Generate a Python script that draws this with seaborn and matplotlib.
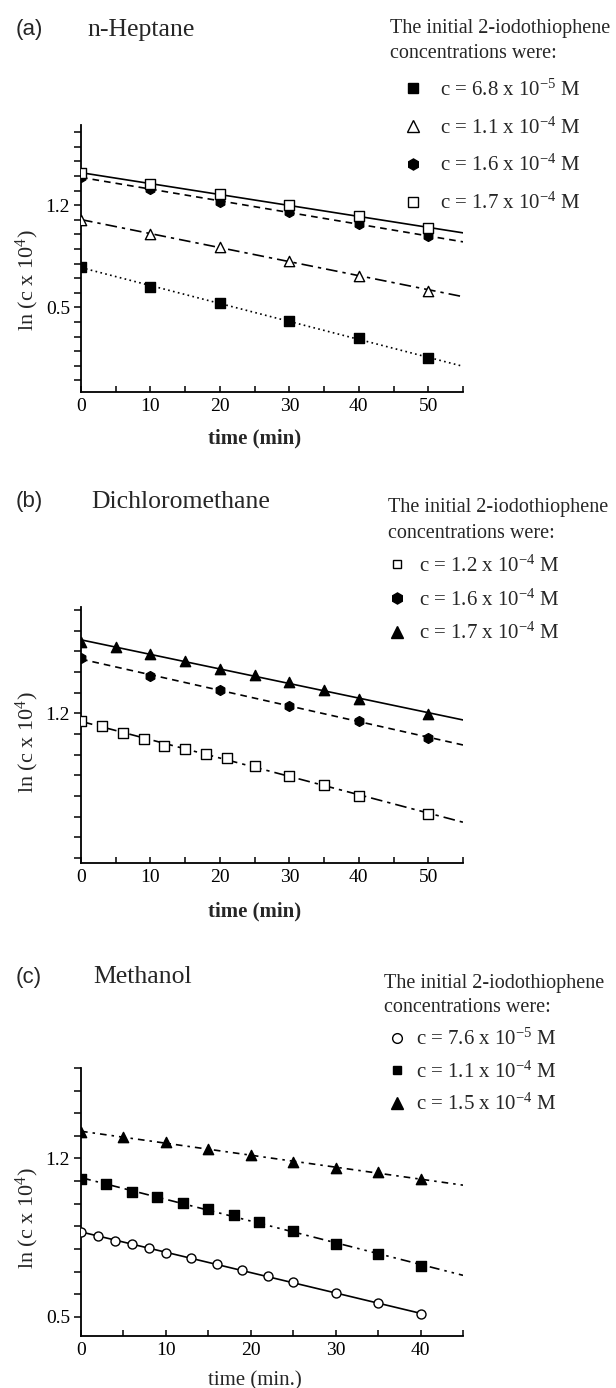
import numpy as np
import pandas as pd
import matplotlib
matplotlib.use("Agg")
import matplotlib.pyplot as plt
import seaborn as sns
from matplotlib.lines import Line2D
from matplotlib.ticker import MultipleLocator, FixedLocator

sns.set_style("ticks")
plt.rcParams['font.family'] = ['Liberation Serif', 'DejaVu Serif']
plt.rcParams['mathtext.fontset'] = 'custom'
plt.rcParams['mathtext.rm'] = 'Liberation Serif'
plt.rcParams['mathtext.it'] = 'Liberation Serif:italic'
plt.rcParams['mathtext.bf'] = 'Liberation Serif:bold'

# ---------------- data ----------------
# (a) n-Heptane
hept_t = [0, 10, 20, 30, 40, 50]
hept_68e5 = [0.775, 0.642, 0.528, 0.408, 0.287, 0.151]
hept_11e4 = [1.097, 1.005, 0.913, 0.821, 0.718, 0.615]
hept_16e4 = [1.395, 1.308, 1.223, 1.154, 1.074, 0.987]
hept_17e4 = [1.418, 1.349, 1.280, 1.200, 1.124, 1.044]
hept_labels = [r"c = 6.8 x 10$^{-5}$ M", r"c = 1.1 x 10$^{-4}$ M",
               r"c = 1.6 x 10$^{-4}$ M", r"c = 1.7 x 10$^{-4}$ M"]

# (b) Dichloromethane
dcm_t12 = [0, 3, 6, 9, 12, 15, 18, 21, 25, 30, 35, 40, 50]
dcm_12e4 = [1.163, 1.139, 1.103, 1.076, 1.044, 1.028, 1.004, 0.983,
            0.946, 0.894, 0.854, 0.801, 0.714]
dcm_t16 = [0, 10, 20, 30, 40, 50]
dcm_16e4 = [1.466, 1.380, 1.313, 1.237, 1.163, 1.082]
dcm_t17 = [0, 5, 10, 15, 20, 25, 30, 35, 40, 50]
dcm_17e4 = [1.546, 1.522, 1.485, 1.453, 1.417, 1.384, 1.353, 1.313, 1.269, 1.195]
dcm_labels = [r"c = 1.2 x 10$^{-4}$ M", r"c = 1.6 x 10$^{-4}$ M",
              r"c = 1.7 x 10$^{-4}$ M"]

# (c) Methanol
meoh_t76 = [0, 2, 4, 6, 8, 10, 13, 16, 19, 22, 25, 30, 35, 40]
meoh_76e5 = [0.876, 0.857, 0.836, 0.820, 0.802, 0.784, 0.761, 0.733,
             0.706, 0.680, 0.652, 0.606, 0.559, 0.512]
meoh_t11 = [0, 3, 6, 9, 12, 15, 18, 21, 25, 30, 35, 40]
meoh_11e4 = [1.107, 1.085, 1.053, 1.031, 1.004, 0.975, 0.949, 0.920,
             0.879, 0.824, 0.777, 0.725]
meoh_t15 = [0, 5, 10, 15, 20, 25, 30, 35, 40]
meoh_15e4 = [1.315, 1.296, 1.274, 1.240, 1.215, 1.185, 1.160, 1.138, 1.107]
meoh_labels = [r"c = 7.6 x 10$^{-5}$ M", r"c = 1.1 x 10$^{-4}$ M",
               r"c = 1.5 x 10$^{-4}$ M"]

legend_title = "The initial 2-iodothiophene\nconcentrations were:"

# ---------------- figure ----------------
W, H = 616, 1388
fig = plt.figure(figsize=(W / 100, H / 100), dpi=100)


def axes_px(left, top, right, bottom):
    return fig.add_axes([left / W, 1 - bottom / H, (right - left) / W, (bottom - top) / H])


ax_a = axes_px(81, 125, 463, 392)
ax_b = axes_px(81, 607, 463, 863)
ax_c = axes_px(81, 1068, 463, 1336)

DOT = (0, (1, 2))
DASHDOT = (0, (7, 3, 2, 3))
SHORTDASH = (0, (4, 3))
DASHDOTDOT = (0, (6, 3, 1.5, 3, 1.5, 3))


def series(ax, t, y, marker, filled, ls, truncate=False, s=42):
    sns.regplot(x=np.array(t, float), y=np.array(y, float), ax=ax, ci=None,
                truncate=truncate, marker=marker, color='black',
                scatter_kws=dict(s=s, facecolors='black' if filled else 'white',
                                 edgecolors='black', linewidths=1.0, alpha=1, zorder=3),
                line_kws=dict(linestyle=ls, linewidth=1.2, zorder=2))


def style_axes(ax, xmax, ylim):
    ax.set_xlim(0, xmax)
    ax.set_ylim(*ylim)
    for sp in ['top', 'right']:
        ax.spines[sp].set_visible(False)
    for sp in ['left', 'bottom']:
        ax.spines[sp].set_linewidth(1.3)
        ax.spines[sp].set_color('black')


def finish_axes(ax, xmax, ylim, ymajor, yminor, xlabel, xbold, xlab_y, ylab_y):
    ax.set_xlim(0, xmax)
    ax.set_ylim(*ylim)
    ax.xaxis.set_major_locator(MultipleLocator(10))
    ax.xaxis.set_minor_locator(MultipleLocator(5))
    ax.yaxis.set_major_locator(FixedLocator(ymajor))
    ax.yaxis.set_minor_locator(FixedLocator(yminor))
    ax.tick_params(axis='x', which='both', direction='in', length=4, width=1.1,
                   labelsize=14, pad=4, colors='black')
    ax.tick_params(axis='y', which='both', direction='out', length=5, width=1.1,
                   labelsize=14, pad=3, colors='black')
    ax.set_xlabel(xlabel, fontsize=15, fontweight='bold' if xbold else 'normal')
    ax.xaxis.set_label_coords(0.455, xlab_y)
    ax.set_ylabel(r"ln (c x 10$^{4}$)", fontsize=16)
    ax.yaxis.set_label_coords(-0.105, ylab_y)
    ax.set_facecolor('white')


def add_legend(ax, handles, labels, x_px, y_px, hl, htp, ls, tls):
    leg = ax.legend(handles, labels, title=legend_title, loc='upper left',
                    bbox_to_anchor=(x_px / W, 1 - y_px / H),
                    bbox_transform=fig.transFigure, frameon=False,
                    alignment='left', borderpad=0, borderaxespad=0,
                    handlelength=hl, handletextpad=htp, labelspacing=ls,
                    fontsize=15, title_fontsize=14.5)
    leg.get_title().set_linespacing(tls)
    return leg


def h(marker, filled, ms=7):
    return Line2D([], [], marker=marker, linestyle='none', markersize=ms,
                  markerfacecolor='black' if filled else 'white',
                  markeredgecolor='black', markeredgewidth=1.0)


# ---- (a) n-Heptane ----
style_axes(ax_a, 55, (-0.08, 1.75))
series(ax_a, hept_t, hept_68e5, 's', True, DOT)
series(ax_a, hept_t, hept_11e4, '^', False, DASHDOT, s=55)
series(ax_a, hept_t, hept_16e4, 'h', True, SHORTDASH, s=50)
series(ax_a, hept_t, hept_17e4, 's', False, '-')
finish_axes(ax_a, 55, (-0.08, 1.75), [0.5, 1.2],
            [v / 10 for v in range(0, 18)], "time (min)", True, -0.135, 0.42)
add_legend(ax_a, [h('s', True), h('^', False, 8), h('h', True, 8), h('s', False)],
           hept_labels, 390, 19, 2.2, 0.2, 0.8, 1.4)
fig.text(16 / W, 1 - 30 / H, "(a)", fontsize=16, family='Liberation Sans', va='center')
fig.text(87 / W, 1 - 30 / H, "n-Heptane", fontsize=18.5, va='center')

# ---- (b) Dichloromethane ----
style_axes(ax_b, 55, (0.475, 1.715))
series(ax_b, dcm_t12, dcm_12e4, 's', False, DASHDOT)
series(ax_b, dcm_t16, dcm_16e4, 'h', True, SHORTDASH, s=50)
series(ax_b, dcm_t17, dcm_17e4, '^', True, '-', s=55)
finish_axes(ax_b, 55, (0.475, 1.715), [1.2],
            [v / 10 for v in range(5, 18)], "time (min)", True, -0.15, 0.47)
add_legend(ax_b, [h('s', False, 6), h('h', True, 8), h('^', True, 8)],
           dcm_labels, 388, 498, 0.9, 0.6, 0.6, 1.5)
fig.text(16 / W, 1 - 502 / H, "(b)", fontsize=16, family='Liberation Sans', va='center')
fig.text(91 / W, 1 - 502 / H, "Dichloromethane", fontsize=18.5, va='center')

# ---- (c) Methanol ----
style_axes(ax_c, 45, (0.415, 1.6))
series(ax_c, meoh_t76, meoh_76e5, 'o', False, '-', truncate=True)
series(ax_c, meoh_t11, meoh_11e4, 's', True, DASHDOTDOT)
series(ax_c, meoh_t15, meoh_15e4, '^', True, (0, (4, 3, 1.5, 3)), s=55)
finish_axes(ax_c, 45, (0.415, 1.6), [0.5, 1.2],
            [v / 10 for v in range(5, 17)], "time (min.)", False, -0.13, 0.44)
add_legend(ax_c, [h('o', False, 7), h('s', True, 6), h('^', True, 8)],
           meoh_labels, 384, 974, 1.25, 0.3, 0.55, 1.38)
fig.text(16 / W, 1 - 977 / H, "(c)", fontsize=16, family='Liberation Sans', va='center')
fig.text(93 / W, 1 - 977 / H, "Methanol", fontsize=18.5, va='center')

fig.savefig("out.png", dpi=100, facecolor='white')
